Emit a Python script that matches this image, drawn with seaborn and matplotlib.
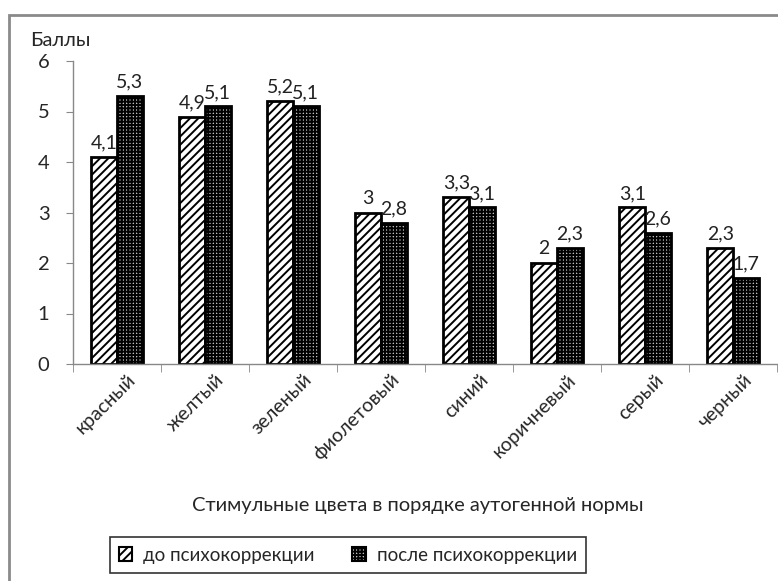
import numpy as np
import pandas as pd
import matplotlib
matplotlib.use('Agg')
import matplotlib.pyplot as plt
import matplotlib.transforms as mtransforms
from matplotlib.patches import Rectangle
import seaborn as sns

# Chart data
colors = ['красный', 'желтый', 'зеленый', 'фиолетовый', 'синий', 'коричневый', 'серый', 'черный']
before = [4.1, 4.9, 5.2, 3.0, 3.3, 2.0, 3.1, 2.3]
after = [5.3, 5.1, 5.1, 2.8, 3.1, 2.3, 2.6, 1.7]
series = ['до психокоррекции', 'после психокоррекции']
yTicks = [0, 1, 2, 3, 4, 5, 6]

sns.set_style('white')
plt.rcParams['font.family'] = ['Lato', 'DejaVu Sans']
plt.rcParams['hatch.linewidth'] = 1.4

df = pd.DataFrame({
    'color': colors * 2,
    'value': before + after,
    'series': [series[0]] * len(colors) + [series[1]] * len(colors),
})

fig = plt.figure(figsize=(7.78, 5.81), dpi=100)
ax = fig.add_axes([73 / 778, 1 - 364 / 581, 704 / 778, (364 - 61) / 581])

sns.barplot(data=df, x='color', y='value', hue='series', order=colors, hue_order=series,
            width=0.58, gap=0, palette=['white', '#c0c0c0'], edgecolor='black',
            linewidth=2, legend=False, ax=ax)

hatches = ['////', '+++++']
for container, hatch in zip(ax.containers, hatches):
    for bar in container:
        bar.set_hatch(hatch)
        bar.set_edgecolor('black')
    ax.bar_label(container, labels=[f'{v:g}'.replace('.', ',') for v in container.datavalues],
                 padding=4, fontsize=14, color='#222222')

ax.set_xlim(-0.5, len(colors) - 0.5)
ax.set_ylim(0, 6)
ax.set_yticks(yTicks)
ax.tick_params(axis='y', length=5, color='#888888', labelsize=14.5, direction='out', left=True, pad=12)
ax.set_xticks(range(len(colors)))
ax.set_xticklabels(colors, rotation=45, ha='right', rotation_mode='anchor', fontsize=14)
ax.tick_params(axis='x', length=0, pad=5)
shift = mtransforms.ScaledTranslation(10 / 100, 0, fig.dpi_scale_trans)
for lbl in ax.get_xticklabels():
    lbl.set_transform(lbl.get_transform() + shift)
ax.set_xticks(np.arange(-0.5, len(colors)), minor=True)
ax.tick_params(axis='x', which='minor', length=6, color='#888888', direction='out', bottom=True)

for side in ('top', 'right'):
    ax.spines[side].set_visible(False)
for side in ('left', 'bottom'):
    ax.spines[side].set_color('#888888')
    ax.spines[side].set_linewidth(1)

ax.set_xlabel('')
ax.set_ylabel('')
fig.text(30 / 778, 1 - 41 / 581, 'Баллы', fontsize=14.5, va='center', ha='left')
fig.text(418 / 778, 1 - 505 / 581, 'Стимульные цвета в порядке аутогенной нормы',
         fontsize=14.5, ha='center', va='center')

# Legend with hatched squares
handles = [Rectangle((0, 0), 1, 1, facecolor=fc, edgecolor='black', hatch=h, linewidth=1.5)
           for fc, h in zip(['white', '#c0c0c0'], hatches)]
leg = fig.legend(handles, series, loc='center', bbox_to_anchor=(348 / 778, 1 - 555 / 581),
                 ncol=2, frameon=True, fontsize=13.5, handlelength=0.7, handleheight=0.7,
                 columnspacing=2.0, borderpad=0.5, handletextpad=0.6, fancybox=False)
leg.get_frame().set_edgecolor('black')
leg.get_frame().set_linewidth(1.2)

# Outer chart border
fig.patches.append(Rectangle((9 / 778, -0.01), 1.0, 1 - 15 / 581 + 0.01, transform=fig.transFigure,
                             fill=False, edgecolor='#8a8a8a', linewidth=2))

fig.savefig('out.png', dpi=100)
